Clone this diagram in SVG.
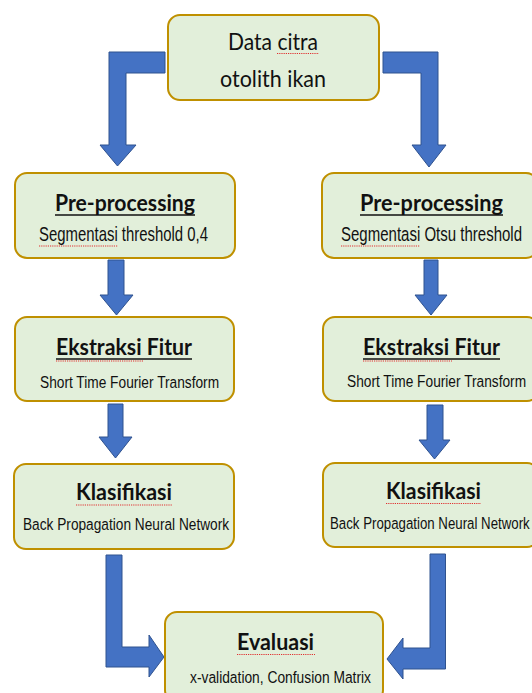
<svg xmlns="http://www.w3.org/2000/svg" width="532" height="693" viewBox="0 0 532 693">
<defs>
<style>
.box{fill:#E2EFDA;stroke:#BF9000;stroke-width:2}
.arr{fill:#4472C4;stroke:#2F528F;stroke-width:1;stroke-linejoin:miter}
.ttl{font-family:Lato,"Open Sans","Liberation Sans",sans-serif;font-weight:bold;font-size:23px;fill:#111}
.big{font-family:Lato,"Open Sans","Liberation Sans",sans-serif;font-size:23px;fill:#111}
.sub{font-family:"Liberation Sans",Arial,sans-serif;font-size:17px;fill:#111}
.sub2{font-family:"Liberation Sans",Arial,sans-serif;font-size:20.5px;fill:#111}
.ul{stroke:#111;stroke-width:1.5;fill:none}
.sq{stroke:#E03030;stroke-width:1.2;fill:none;stroke-dasharray:1.2 1}
</style>
</defs>
<g id="connectors">
<path class="arr" d="M165,52 L109,52 L109,145 L100,145 L117.5,166 L136,145 L126,145 L126,73 L165,73 Z"/>
<path class="arr" d="M383,52 L438,52 L438,145 L446,145 L429,167 L412,145 L421,145 L421,73 L383,73 Z"/>
<path class="arr" d="M108,260 L124,260 L124,295 L133,295 L116.5,315 L100,295 L108,295 Z"/>
<path class="arr" d="M424,260 L438,260 L438,295 L447,295 L431,315 L415,295 L424,295 Z"/>
<path class="arr" d="M108,404 L123,404 L123,437 L132,437 L115.5,458 L99,437 L108,437 Z"/>
<path class="arr" d="M427,405 L443,405 L443,440 L450,440 L434.5,459 L419,440 L427,440 Z"/>
<path class="arr" d="M106,555 L122,555 L122,647 L149,647 L149,635 L164,657 L149,677 L149,667 L106,667 Z"/>
<path class="arr" d="M430,554 L445.5,554 L445.5,669 L403,669 L403,679 L387,659 L403,638 L403,648 L430,648 Z"/>
</g>
<g id="data">
<rect class="box" x="168" y="15" width="211" height="85" rx="12"/>
<text class="big" x="228" y="50" textLength="90" lengthAdjust="spacingAndGlyphs">Data citra</text>
<text class="big" x="220" y="87" textLength="106" lengthAdjust="spacingAndGlyphs">otolith ikan</text>
<path class="sq" d="M277,53.5 H319"/>
</g>
<g id="pre-left">
<rect class="box" x="15" y="173" width="220" height="85" rx="12"/>
<text class="ttl" x="55" y="210.5" textLength="140" lengthAdjust="spacingAndGlyphs">Pre-processing</text>
<path class="ul" d="M55,215 H195"/>
<text class="sub2" transform="translate(39,241) scale(0.727,1)" textLength="232.5" lengthAdjust="spacingAndGlyphs">Segmentasi threshold 0,4</text>
<path class="sq" d="M39,246 H118"/>
</g>
<g id="pre-right">
<rect class="box" x="322" y="173" width="216" height="85" rx="12"/>
<text class="ttl" x="360" y="210.5" textLength="143" lengthAdjust="spacingAndGlyphs">Pre-processing</text>
<path class="ul" d="M360,215 H503"/>
<text class="sub2" transform="translate(341,241) scale(0.732,1)" textLength="247.3" lengthAdjust="spacingAndGlyphs">Segmentasi Otsu threshold</text>
<path class="sq" d="M341,246 H420"/>
</g>
<g id="eks-left">
<rect class="box" x="15" y="317" width="219" height="84" rx="12"/>
<text class="ttl" x="56" y="355" textLength="136" lengthAdjust="spacingAndGlyphs">Ekstraksi Fitur</text>
<path class="ul" d="M56,359 H192"/>
<path class="sq" d="M56,361 H144"/>
<text class="sub" transform="translate(40,387.5) scale(0.8,1)" textLength="223.9" lengthAdjust="spacingAndGlyphs">Short Time Fourier Transform</text>
</g>
<g id="eks-right">
<rect class="box" x="323" y="317" width="216" height="84" rx="12"/>
<text class="ttl" x="363" y="355" textLength="137" lengthAdjust="spacingAndGlyphs">Ekstraksi Fitur</text>
<path class="ul" d="M363,359 H500"/>
<path class="sq" d="M363,361 H452"/>
<text class="sub" transform="translate(347,387) scale(0.8,1)" textLength="223.9" lengthAdjust="spacingAndGlyphs">Short Time Fourier Transform</text>
</g>
<g id="klas-left">
<rect class="box" x="14" y="464" width="220" height="85" rx="12"/>
<text class="ttl" x="76" y="500" textLength="96" lengthAdjust="spacingAndGlyphs">Klasifikasi</text>
<path class="sq" d="M76,505 H172"/>
<text class="sub" transform="translate(23,530) scale(0.805,1)" textLength="256" lengthAdjust="spacingAndGlyphs">Back Propagation Neural Network</text>
</g>
<g id="klas-right">
<rect class="box" x="323" y="463" width="216" height="84" rx="12"/>
<text class="ttl" x="386" y="499" textLength="95" lengthAdjust="spacingAndGlyphs">Klasifikasi</text>
<path class="sq" d="M386,503.5 H481"/>
<text class="sub" transform="translate(330,529) scale(0.78,1)" textLength="256" lengthAdjust="spacingAndGlyphs">Back Propagation Neural Network</text>
</g>
<g id="evaluasi">
<rect class="box" x="165" y="612" width="218" height="90" rx="12"/>
<text class="ttl" x="237" y="650" textLength="77" lengthAdjust="spacingAndGlyphs">Evaluasi</text>
<path class="sq" d="M237,654.5 H315"/>
<text class="sub" transform="translate(190,683) scale(0.812,1)" textLength="222.9" lengthAdjust="spacingAndGlyphs">x-validation, Confusion Matrix</text>
</g>
</svg>
